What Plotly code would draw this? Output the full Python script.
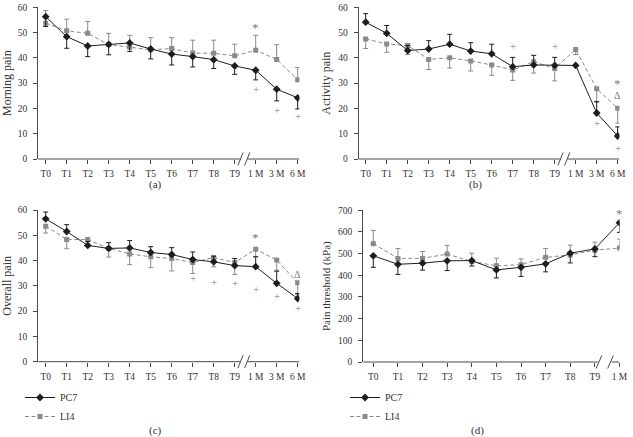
import plotly.graph_objects as go

W, H = 633, 437

cats_m = ["T0", "T1", "T2", "T3", "T4", "T5", "T6", "T7", "T8", "T9", "1 M", "3 M", "6 M"]
cats_d = ["T0", "T1", "T2", "T3", "T4", "T5", "T6", "T7", "T8", "T9", "1 M"]

# (a) Morning pain
pc7_a = [56.3, 48.4, 44.7, 45.3, 45.9, 43.5, 41.5, 40.5, 39.3, 36.8, 35.1, 27.6, 24.2]
pc7_a_up = [0] * 13
pc7_a_dn = [3.9, 4.6, 4.2, 4.1, 3.4, 3.9, 4.3, 4.1, 3.5, 3.3, 3.8, 4.6, 4.4]
li4_a = [53.7, 50.7, 49.7, 45.3, 44.2, 43.2, 43.7, 41.9, 41.8, 40.8, 43.0, 39.4, 31.3]
li4_a_up = [5.0, 4.6, 4.7, 4.4, 4.7, 4.8, 4.3, 5.1, 5.2, 4.6, 5.9, 5.8, 4.9]
li4_a_dn = [0] * 13
sig_a_x = ["1 M", "1 M", "3 M", "6 M"]
sig_a_y = [52.0, 27.5, 19.5, 17.0]
sig_a_t = ["*", "+", "+", "+"]

# (b) Activity pain
pc7_b = [54.1, 49.7, 42.9, 43.5, 45.4, 42.7, 41.6, 36.5, 37.2, 37.0, 37.0, 18.2, 9.1]
pc7_b_up = [3.4, 3.1, 2.0, 3.3, 3.9, 3.3, 3.8, 3.7, 3.8, 3.2, 0, 4.5, 3.6]
pc7_b_dn = [0] * 13
li4_b = [47.5, 45.5, 44.9, 39.4, 40.0, 38.8, 37.2, 35.2, 38.5, 35.8, 43.3, 27.8, 20.1]
li4_b_up = [0] * 13
li4_b_dn = [3.8, 3.3, 3.6, 4.0, 4.0, 4.0, 4.1, 4.1, 4.5, 4.9, 2.0, 5.3, 5.9]
sig_b_x = ["T7", "T9", "3 M", "6 M", "6 M", "6 M"]
sig_b_y = [44.5, 44.5, 14.3, 4.5, 29.8, 25.3]
sig_b_t = ["+", "+", "+", "+", "*", "Δ"]

# (c) Overall pain
pc7_c = [56.5, 51.5, 46.0, 44.8, 45.0, 43.2, 42.4, 40.4, 39.5, 38.0, 37.6, 31.0, 25.0]
pc7_c_up = [2.7, 2.7, 1.5, 2.3, 2.9, 2.3, 2.7, 3.0, 2.2, 2.8, 3.9, 4.8, 2.0]
pc7_c_dn = [0] * 13
li4_c = [53.6, 48.3, 48.3, 44.8, 42.6, 41.5, 40.8, 39.2, 41.2, 39.2, 44.5, 40.2, 31.2]
li4_c_up = [0] * 13
li4_c_dn = [2.7, 3.6, 2.5, 3.4, 4.2, 4.3, 4.9, 4.3, 3.7, 4.7, 3.0, 4.0, 4.6]
sig_c_x = ["T7", "T8", "T9", "1 M", "3 M", "6 M", "1 M", "6 M"]
sig_c_y = [33.2, 31.7, 31.2, 28.8, 25.8, 21.2, 49.0, 34.5]
sig_c_t = ["+", "+", "+", "+", "+", "+", "*", "Δ"]

# (d) Pain threshold (kPa)
pc7_d = [490, 451, 456, 467, 468, 425, 437, 453, 502, 522, 643]
pc7_d_up = [0] * 11
pc7_d_dn = [53, 47, 32, 45, 25, 37, 42, 37, 45, 36, 45]
li4_d = [546, 478, 478, 498, 464, 444, 449, 483, 494, 516, 526]
li4_d_up = [61, 46, 32, 40, 38, 35, 27, 41, 45, 37, 41]
li4_d_dn = [0] * 11
sig_d_x = ["1 M"]
sig_d_y = [683]
sig_d_t = ["*"]

BLACK = "#1e1e1e"
GRAY = "#8a8a8a"
SIGC = "#7a7a7a"
AXC = "#4a4a4a"
TXT = "#333333"
FONT = "Liberation Serif"

# panel geometry (pixels)
panels = [
    dict(t0=45.7, sp=21.0, left=-0.36, right=12.08, top=7.3, bot=159.0),
    dict(t0=365.7, sp=21.0, left=-0.33, right=12.08, top=7.3, bot=159.0),
    dict(t0=45.7, sp=21.0, left=-0.36, right=12.08, top=210.0, bot=361.7),
    dict(t0=373.3, sp=24.62, left=-0.41, right=10.0, top=210.3, bot=362.0),
]

series = [
    (cats_m, pc7_a, pc7_a_up, pc7_a_dn, li4_a, li4_a_up, li4_a_dn, sig_a_x, sig_a_y, sig_a_t),
    (cats_m, pc7_b, pc7_b_up, pc7_b_dn, li4_b, li4_b_up, li4_b_dn, sig_b_x, sig_b_y, sig_b_t),
    (cats_m, pc7_c, pc7_c_up, pc7_c_dn, li4_c, li4_c_up, li4_c_dn, sig_c_x, sig_c_y, sig_c_t),
    (cats_d, pc7_d, pc7_d_up, pc7_d_dn, li4_d, li4_d_up, li4_d_dn, sig_d_x, sig_d_y, sig_d_t),
]

titles = ["Morning pain", "Activity pain", "Overall pain", "Pain threshold (kPa)"]
title_sizes = [12, 12, 12, 11]
yranges = [[0, 60], [0, 60], [0, 60], [0, 700]]
ydticks = [10, 10, 10, 100]
labels = ["(a)", "(b)", "(c)", "(d)"]
label_pos = [(155, 184), (475, 184), (155, 430), (477, 430)]
legend_names = [None, None, "legend", "legend2"]
sig_sizes = {"*": 13, "+": 11, "Δ": 10}
# break geometry in category units: (left segment end, slash1 x0, x1, slash2 x0, x1, right segment start)
breaks = [
    (9.27, 9.15, 9.40, 9.47, 9.72, 9.60),
    (9.27, 9.15, 9.40, 9.47, 9.72, 9.60),
    (9.27, 9.15, 9.40, 9.47, 9.72, 9.60),
    (9.12, 9.05, 9.28, 9.52, 9.75, 9.68),
]

fig = go.Figure()
layout = dict(
    width=W, height=H, margin=dict(l=0, r=0, t=0, b=0, autoexpand=False),
    paper_bgcolor="white", plot_bgcolor="white",
    font=dict(family=FONT, size=9.5, color=TXT),
    showlegend=True,
)
shapes = []
annotations = []

for i, (cats, pc7, pc7u, pc7d, li4, li4u, li4d, sx, sy, st) in enumerate(series):
    n = "" if i == 0 else str(i + 1)
    xa, ya = "x" + n, "y" + n
    leg = legend_names[i]
    show = leg is not None
    fig.add_trace(go.Scatter(
        x=cats, y=li4, xaxis=xa, yaxis=ya, name="LI4", mode="lines+markers",
        line=dict(color=GRAY, width=1, dash="4px,2.5px"),
        marker=dict(symbol="square", size=5, color=GRAY),
        error_y=dict(type="data", symmetric=False, array=li4u, arrayminus=li4d,
                     color=GRAY, thickness=1, width=2.5),
        showlegend=show, legend=leg if show else "legend", legendrank=2,
    ))
    fig.add_trace(go.Scatter(
        x=cats, y=pc7, xaxis=xa, yaxis=ya, name="PC7", mode="lines+markers",
        line=dict(color=BLACK, width=1),
        marker=dict(symbol="diamond", size=6, color=BLACK),
        error_y=dict(type="data", symmetric=False, array=pc7u, arrayminus=pc7d,
                     color=BLACK, thickness=1, width=2.5),
        showlegend=show, legend=leg if show else "legend", legendrank=1,
    ))
    for cx, cy, ct in zip(sx, sy, st):
        annotations.append(dict(
            x=cx, y=cy, xref=xa, yref=ya, text=ct, showarrow=False,
            xanchor="center", yanchor="middle",
            font=dict(family=FONT, size=sig_sizes[ct], color=SIGC),
        ))

    p = panels[i]
    dx0 = (p["t0"] + p["left"] * p["sp"]) / W
    dx1 = (p["t0"] + p["right"] * p["sp"]) / W
    dy0 = 1 - p["bot"] / H
    dy1 = 1 - p["top"] / H
    layout["xaxis" + n] = dict(
        domain=[dx0, dx1], anchor=ya, type="category", categoryarray=cats,
        range=[p["left"], p["right"]], tickmode="array", tickvals=cats, ticktext=cats,
        showline=False, ticks="outside", ticklen=4, tickcolor=AXC, tickwidth=1,
        showgrid=False, zeroline=False, tickfont=dict(size=9.5, color=TXT),
        ticklabelstandoff=2, automargin=False, fixedrange=True,
    )
    layout["yaxis" + n] = dict(
        domain=[dy0, dy1], anchor=xa, range=yranges[i], dtick=ydticks[i],
        showline=True, linecolor=AXC, linewidth=1, ticks="outside", ticklen=4,
        tickcolor=AXC, showgrid=False, zeroline=False,
        title=dict(text=titles[i], font=dict(size=title_sizes[i], color=TXT), standoff=5),
        tickfont=dict(size=9.5, color=TXT), ticklabelstandoff=4,
        automargin=False, fixedrange=True,
    )
    # broken x axis line
    b = breaks[i]
    ldom = 6.5 / (p["bot"] - p["top"])
    shapes.append(dict(type="line", xref=xa, yref=ya + " domain", x0=p["left"], x1=b[0],
                       y0=0, y1=0, line=dict(color=AXC, width=1)))
    shapes.append(dict(type="line", xref=xa, yref=ya + " domain", x0=b[5], x1=p["right"],
                       y0=0, y1=0, line=dict(color=AXC, width=1)))
    shapes.append(dict(type="line", xref=xa, yref=ya + " domain", x0=b[1], x1=b[2],
                       y0=-ldom, y1=ldom, line=dict(color=AXC, width=1)))
    shapes.append(dict(type="line", xref=xa, yref=ya + " domain", x0=b[3], x1=b[4],
                       y0=-ldom, y1=ldom, line=dict(color=AXC, width=1)))
    lx, ly = label_pos[i]
    annotations.append(dict(text=labels[i], x=lx / W, y=1 - ly / H, xref="paper", yref="paper",
                            showarrow=False, font=dict(size=11, color=TXT),
                            xanchor="center", yanchor="middle"))

layout["shapes"] = shapes
layout["annotations"] = annotations
layout["legend"] = dict(x=20 / W, y=1 - 383 / H, xanchor="left", yanchor="top",
                        bgcolor="rgba(0,0,0,0)", font=dict(size=10, color=TXT),
                        tracegroupgap=0, itemwidth=30, traceorder="normal")
layout["legend2"] = dict(x=345 / W, y=1 - 383 / H, xanchor="left", yanchor="top",
                         bgcolor="rgba(0,0,0,0)", font=dict(size=10, color=TXT),
                         tracegroupgap=0, itemwidth=30, traceorder="normal")
fig.update_layout(**layout)
fig.write_html(
    "out.html",
    config={"displayModeBar": False},
    post_script="document.body.style.margin='0';document.body.style.overflow='hidden';",
)
